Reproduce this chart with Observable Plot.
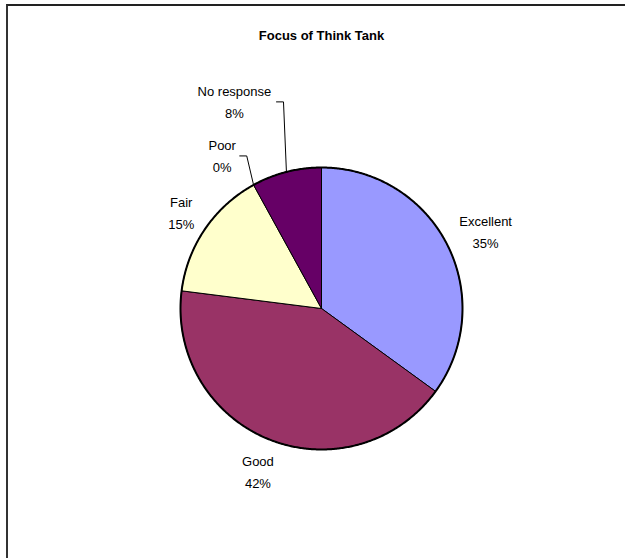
<!DOCTYPE html>
<html><head><meta charset="utf-8">
<script src="https://cdn.jsdelivr.net/npm/d3@7"></script>
<script src="https://cdn.jsdelivr.net/npm/@observablehq/plot@0.6"></script>
<style>
body{margin:0;background:#fff}
#wrap{position:relative;width:625px;height:558px;overflow:hidden}
#border{position:absolute;left:6px;top:4px;right:-4px;bottom:-4px;border-top:2px solid #222;border-left:2px solid #333;pointer-events:none}
#wrap svg{position:absolute;left:0;top:0}
</style>
</head><body><div id="wrap"><div id="border"></div></div>
<script>
const title = "Focus of Think Tank";
const categories = ["Excellent", "Good", "Fair", "Poor", "No response"];
const values = [35, 42, 15, 0, 8];
const colors = ["#9999FF", "#993366", "#FFFFCC", "#CCFFFF", "#660066"];

// layout
const W = 625, H = 558, CX = 321, CY = 308, R = 141;
const FONT = "Liberation Sans, Arial, sans-serif";
const FS = 13, LS = 0.4, LH = 22;
// labels moved out with leader lines (radius factor, angle in degrees)
const leaderLayout = {"Poor": {k: 1.30, deg: 327.2}, "No response": {k: 1.60, deg: 337.3}};

const ctx = document.createElement("canvas").getContext("2d");
ctx.font = `${FS}px ${FONT}`;
const tw = s => ctx.measureText(s).width + LS * s.length;

const total = d3.sum(values);
let acc = 0;
const slices = categories.map((c, i) => {
  const a0 = acc / total * 2 * Math.PI; acc += values[i];
  const a1 = acc / total * 2 * Math.PI;
  return {c, v: values[i], a0, a1, mid: (a0 + a1) / 2};
});

const pts = [];
for (const s of slices) {
  if (s.v === 0) continue;
  pts.push({c: s.c, x: 0, y: 0});
  const n = Math.max(2, Math.ceil((s.a1 - s.a0) / (Math.PI / 360)));
  for (let k = 0; k <= n; k++) {
    const a = s.a0 + (s.a1 - s.a0) * k / n;
    pts.push({c: s.c, x: Math.sin(a), y: Math.cos(a)});
  }
  pts.push({c: s.c, x: 0, y: 0});
}
const circle = d3.range(0, 721).map(k => ({x: Math.sin(k / 720 * 2 * Math.PI), y: Math.cos(k / 720 * 2 * Math.PI)}));

const labels = [], leaders = [];
for (const s of slices) {
  const pct = `${s.v}%`;
  const text = `${s.c}\n${pct}`;
  const w = Math.max(tw(s.c), tw(pct)), h = LH + FS;
  const sn = Math.sin(s.mid), cs = Math.cos(s.mid);
  let x, y;
  if (leaderLayout[s.c]) {
    const L = leaderLayout[s.c], a = L.deg * Math.PI / 180;
    x = L.k * Math.sin(a); y = L.k * Math.cos(a);
    const tx0 = x + (w / 2 + 3) / R, tx1 = tx0 + 7 / R, ty = y - 1.5 / R;
    leaders.push({g: s.c, x: sn, y: cs}, {g: s.c, x: tx1, y: ty}, {g: s.c, x: tx0, y: ty});
  } else {
    const g = 15;
    x = (1 + g / R) * sn + sn * w / 2 / R;
    y = (1 + g / R) * cs + cs * h / 2 / R;
  }
  labels.push({x, y, text});
}

const chart = Plot.plot({
  width: W, height: H, margin: 0,
  style: {background: "transparent", overflow: "visible"},
  x: {domain: [-1, 1], range: [CX - R, CX + R], axis: null},
  y: {domain: [-1, 1], range: [CY + R, CY - R], axis: null},
  color: {domain: categories, range: colors},
  marks: [
    Plot.line(pts, {x: "x", y: "y", z: "c", fill: "c", stroke: "#000", strokeWidth: 1, strokeLinejoin: "round"}),
    Plot.line(circle, {x: "x", y: "y", stroke: "#000", strokeWidth: 2}),
    Plot.line(leaders, {x: "x", y: "y", z: "g", stroke: "#000", strokeWidth: 1}),
    Plot.text(labels, {x: "x", y: "y", text: "text", fontSize: FS, fontFamily: FONT, lineHeight: LH / FS, lineAnchor: "middle", textAnchor: "middle", fill: "#000", letterSpacing: LS}),
    Plot.text([title], {x: () => 0, y: () => (CY - 35) / R, text: d => d, fontSize: 13, fontWeight: "bold", fontFamily: FONT, letterSpacing: 1.6, lineAnchor: "middle", fill: "#000"})
  ]
});
document.getElementById("wrap").appendChild(chart);
</script>
</body></html>
